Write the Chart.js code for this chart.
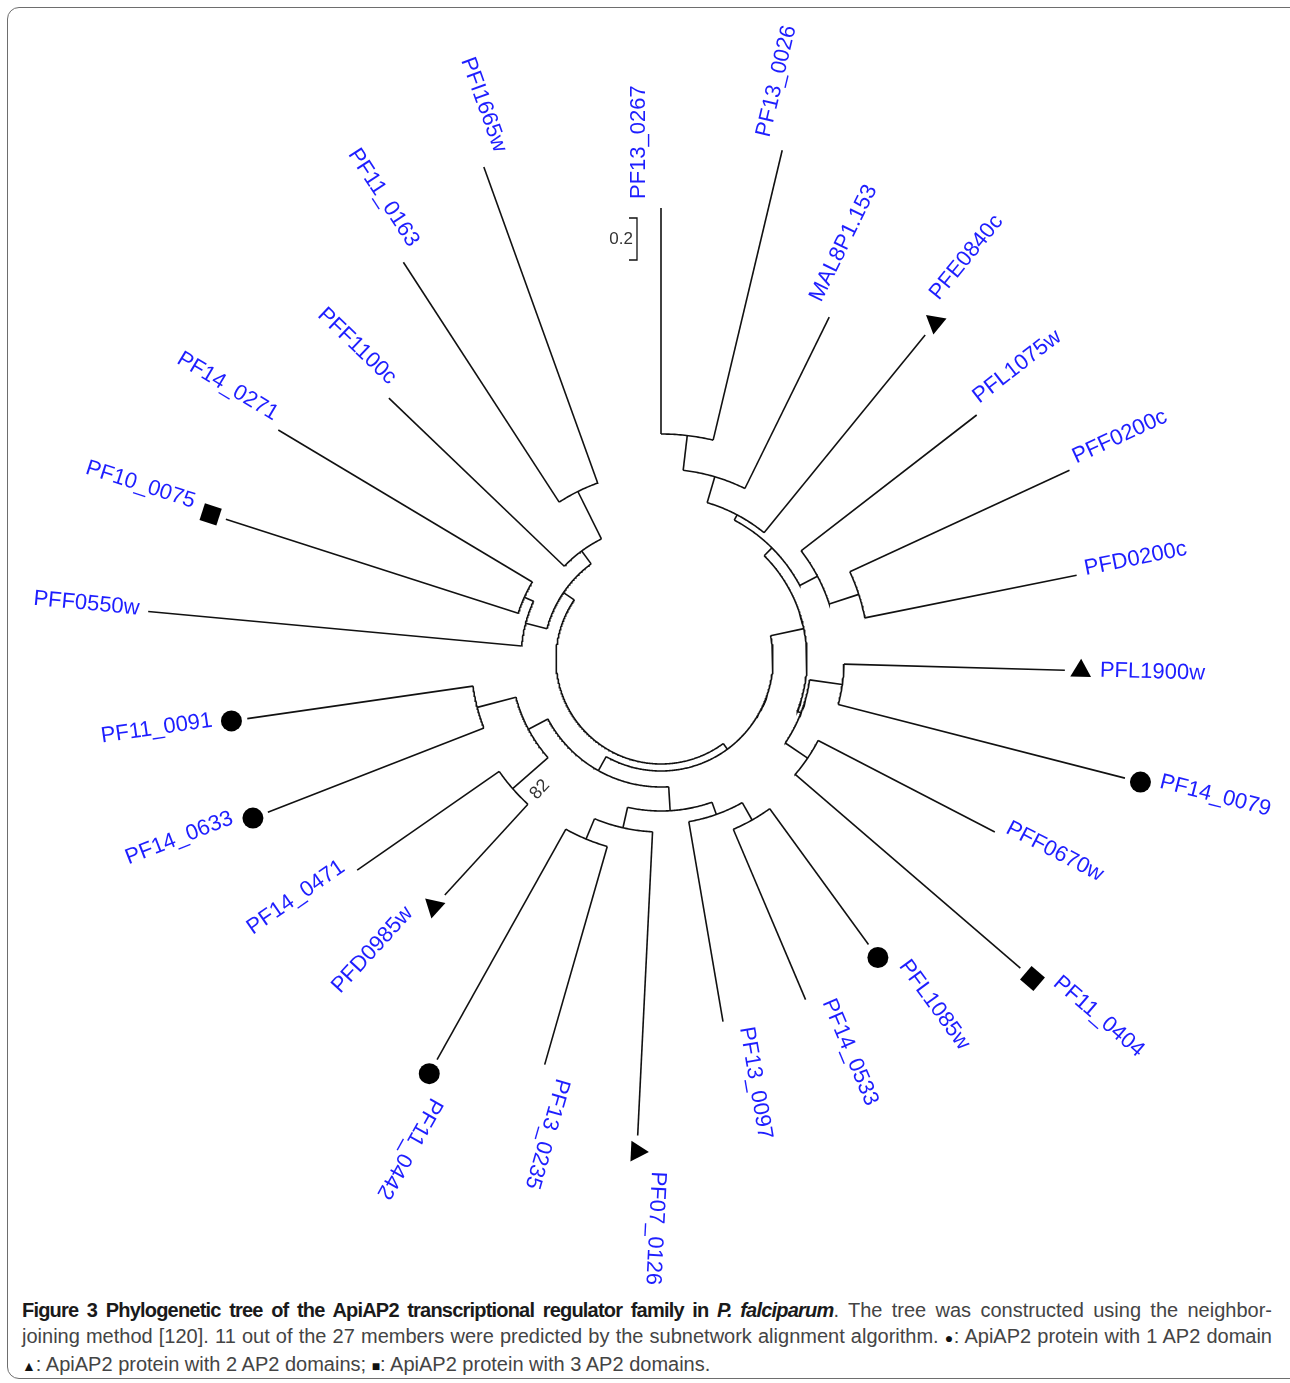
<!DOCTYPE html>
<html>
<head>
<meta charset="utf-8">
<script src="https://cdn.jsdelivr.net/npm/chart.js@4.4.1/dist/chart.umd.min.js"></script>
<style>
  body { margin: 0; background: #fff; width: 1290px; height: 1383px; position: relative; overflow: hidden; }
  #frame { position: absolute; left: 7px; top: 7px; width: 1295px; height: 1372px; border: 1.5px solid #6e6e6e; border-radius: 12px; box-sizing: border-box; }
  #wrap { position: absolute; left: 0; top: 0; width: 1290px; height: 1290px; }
  #caption { position: absolute; left: 22px; top: 1297px; width: 1250px; font-family: "Liberation Sans", Arial, sans-serif; font-size: 20px; line-height: 26px; color: #444; }
  #caption .ln { white-space: nowrap; }
  #caption .just { text-align: justify; text-align-last: justify; white-space: normal; }
  #caption b { color: #1a1a1a; letter-spacing: -0.8px; }
  #caption .sym { font-size: 14px; color: #111; }
</style>
</head>
<body>
<div id="frame"></div>
<div id="wrap"><canvas id="tree" width="1290" height="1290"></canvas></div>
<div id="caption">
  <div class="ln just" id="cap1"><b id="capBold">Figure 3 Phylogenetic tree of the ApiAP2 transcriptional regulator family in <i>P. falciparum</i></b>. The tree was constructed using the neighbor-</div>
  <div class="ln just" id="cap2">joining method [120]. 11 out of the 27 members were predicted by the subnetwork alignment algorithm. <span class="sym">●</span>: ApiAP2 protein with 1 AP2 domain</div>
  <div class="ln"><span class="sym">▲</span>: ApiAP2 protein with 2 AP2 domains; <span class="sym">■</span>: ApiAP2 protein with 3 AP2 domains.</div>
</div>
<script>
// --- leaves, clockwise from the top ---
const leafNames = ['PF13_0267', 'PF13_0026', 'MAL8P1.153', 'PFE0840c', 'PFL1075w', 'PFF0200c', 'PFD0200c',
  'PFL1900w', 'PF14_0079', 'PFF0670w', 'PF11_0404', 'PFL1085w', 'PF14_0533', 'PF13_0097', 'PF07_0126',
  'PF13_0235', 'PF11_0442', 'PFD0985w', 'PF14_0471', 'PF14_0633', 'PF11_0091', 'PFF0550w', 'PF10_0075',
  'PF14_0271', 'PFF1100c', 'PF11_0163', 'PFI1665w'];
const leafAngles = [0, 13.4, 26.2, 39.2, 52.3, 65.2, 78.6, 91.6, 104.4, 117.4, 130.7, 144, 157, 170.3,
  182.8, 196, 209.2, 222.5, 235.2, 248.7, 261.8, 275.3, 287.8, 300.9, 313.8, 327, 340.2];
const leafTips = [451, 523, 381, 418, 399, 450, 424, 404, 479, 376, 474, 353, 370, 368,
  477, 422, 459, 320, 370, 422, 418, 515, 457, 446, 377, 473, 523];
// number of AP2 domains for the predicted members (0 = not predicted)
const leafDomains = [0, 0, 0, 2, 0, 0, 0, 2, 1, 0, 3, 1, 0, 0, 2, 0, 1, 2, 0, 1, 1, 0, 3, 0, 0, 0, 0];

// --- internal nodes ---
const nodeIds = ['T1', 'T2', 'T3', 'B1', 'B2', 'UP', 'C1', 'D1', 'LOW', 'RIGHT', 'E1', 'E2', 'F1', 'F2', 'S',
  'K82', 'SW1', 'SW', 'BOTTOM', 'RB', 'N1a', 'N1', 'W1', 'W', 'LEFT', 'ROOT'];
const nodeKids = [[0, 1], ['T1', 2], ['T2', 3], [5, 6], [4, 'B1'], ['T3', 'B2'], [7, 8], [9, 10], ['C1', 'D1'],
  ['UP', 'LOW'], [11, 12], [13, 'E1'], [15, 16], [14, 'F1'], ['E2', 'F2'], [17, 18], [19, 20], ['K82', 'SW1'],
  ['S', 'SW'], ['RIGHT', 'BOTTOM'], [25, 26], [24, 'N1a'], [22, 23], [21, 'W1'], ['W', 'N1'], ['RB', 'LEFT']];
const nodeRadii = [225, 190, 163, 208, 177, 157, 183, 177, 150, 146, 185, 165, 195, 173, 152,
  197, 190, 150, 128, 112, 187, 134, 150, 140, 118, 105];
const supportNodes = ['K82'];
const supportValues = [82];

const scaleBarValue = 0.2;
const radiusPerUnit = 210;

// --- helpers ---
const rad = d => d * Math.PI / 180;
const polar = (r, b) => ({ x: r * Math.sin(rad(b)), y: r * Math.cos(rad(b)) });
const nodeAngleCache = {};
function angleOf(k) {
  if (typeof k === 'number') return leafAngles[k];
  if (nodeAngleCache[k] !== undefined) return nodeAngleCache[k];
  const a = nodeKids[nodeIds.indexOf(k)].map(angleOf);
  return (nodeAngleCache[k] = (Math.min(...a) + Math.max(...a)) / 2);
}
const radiusOf = k => typeof k === 'number' ? leafTips[k] : nodeRadii[nodeIds.indexOf(k)];

// --- branch segments ---
const lineStyle = { showLine: true, borderColor: '#111', borderWidth: 1.6, pointRadius: 0, tension: 0, fill: false, clip: false };
const segments = [];
nodeIds.forEach((id, i) => {
  const r0 = nodeRadii[i];
  const a = nodeKids[i].map(angleOf);
  const from = Math.min(...a), to = Math.max(...a);
  const arc = [];
  for (let t = from; t < to; t += 0.5) arc.push(polar(r0, t));
  arc.push(polar(r0, to));
  segments.push({ ...lineStyle, data: arc });
  nodeKids[i].forEach(k => {
    const b = angleOf(k);
    segments.push({ ...lineStyle, data: [polar(r0, b), polar(radiusOf(k), b)] });
  });
});

// scale bar beside the first leaf
const barTop = leafTips[0] - 10, barBottom = barTop - scaleBarValue * radiusPerUnit, barX = -24;
segments.push({ ...lineStyle, borderWidth: 1.3, data: [
  { x: barX - 8, y: barTop }, { x: barX, y: barTop }, { x: barX, y: barBottom }, { x: barX - 8, y: barBottom }] });

// --- domain markers ---
const textRot = b => (b > 215 ? b - 270 : b - 90);
const markerTypes = { 1: 'circle', 2: 'triangle', 3: 'rect' };
const markerSize = { 1: 10.5, 2: 12, 3: 12.5 };
const markers = [1, 2, 3].map(n => {
  const idx = leafDomains.map((d, i) => d === n ? i : -1).filter(i => i >= 0);
  return {
    data: idx.map(i => polar(leafTips[i] + 16, leafAngles[i])),
    pointStyle: markerTypes[n],
    pointRadius: markerSize[n],
    pointRotation: idx.map(i => textRot(leafAngles[i])),
    pointBackgroundColor: '#000', pointBorderColor: '#000', pointBorderWidth: 0,
    showLine: false, clip: false
  };
});

// --- text drawn on top ---
const textPlugin = {
  id: 'treeText',
  afterDatasetsDraw(chart) {
    const { ctx, scales: { x, y } } = chart;
    const at = p => [x.getPixelForValue(p.x), y.getPixelForValue(p.y)];
    ctx.save();
    ctx.textBaseline = 'middle';
    ctx.font = '22px "Liberation Sans", Arial, sans-serif';
    ctx.fillStyle = 'rgb(30,30,255)';
    leafNames.forEach((name, i) => {
      const b = leafAngles[i];
      const flip = b > 215;
      const gap = leafDomains[i] ? 35 : 9;
      const [px, py] = at(polar(leafTips[i] + gap, b));
      ctx.save();
      ctx.translate(px, py);
      ctx.rotate(rad(textRot(b)));
      ctx.textAlign = flip ? 'right' : 'left';
      ctx.fillText(name, 0, -22 * Math.abs(Math.cos(rad(b))));
      ctx.restore();
    });
    // bootstrap value
    ctx.font = '18px "Liberation Sans", Arial, sans-serif';
    ctx.fillStyle = '#333';
    supportNodes.forEach((id, i) => {
      const b = angleOf(id);
      const [px, py] = at(polar(178, b - 6));
      ctx.save();
      ctx.translate(px, py);
      ctx.rotate(rad(textRot(b - 6)));
      ctx.textAlign = 'center';
      ctx.fillText(String(supportValues[i]), 0, 0);
      ctx.restore();
    });
    // scale bar label
    ctx.font = '17px "Liberation Sans", Arial, sans-serif';
    ctx.textAlign = 'right';
    const [sx, sy] = at({ x: barX - 4, y: (barTop + barBottom) / 2 });
    ctx.fillText(String(scaleBarValue), sx, sy);
    ctx.restore();
  }
};

new Chart(document.getElementById('tree'), {
  type: 'scatter',
  data: { datasets: [...segments, ...markers] },
  options: {
    responsive: false,
    animation: false,
    layout: { padding: 0, autoPadding: false },
    plugins: { legend: { display: false }, tooltip: { enabled: false } },
    scales: {
      x: { type: 'linear', display: false, min: -661, max: 629 },
      y: { type: 'linear', display: false, min: -631, max: 659 }
    }
  },
  plugins: [textPlugin]
});

// keep each justified caption line on one line
const capBold = document.getElementById('capBold');
let ls = -0.8;
while (document.getElementById('cap1').offsetHeight > 30 && ls > -3) {
  ls -= 0.2;
  capBold.style.letterSpacing = ls + 'px';
}
const cap2 = document.getElementById('cap2');
let ls2 = 0;
while (cap2.offsetHeight > 30 && ls2 > -2) {
  ls2 -= 0.1;
  cap2.style.letterSpacing = ls2 + 'px';
}
</script>
</body>
</html>
